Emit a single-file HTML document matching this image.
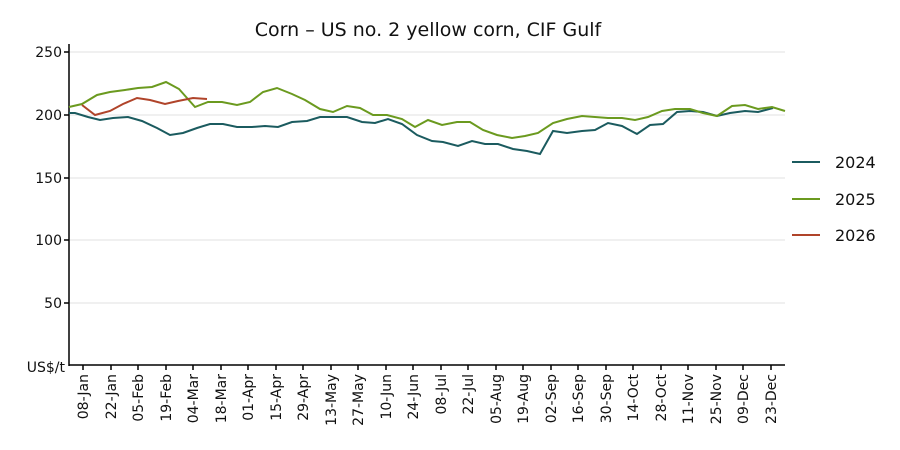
<!DOCTYPE html>
<html><head><meta charset="utf-8"><style>body{margin:0;background:#fff}svg{display:block;font-family:"DejaVu Sans","Liberation Sans",sans-serif}</style></head><body>
<svg width="900" height="450" viewBox="0 0 900 450">
<text x="428" y="36" font-size="19" text-anchor="middle" fill="#111">Corn – US no. 2 yellow corn, CIF Gulf</text>
<g stroke="#ececec" stroke-width="1.5">
<line x1="70" y1="52" x2="785" y2="52"/><line x1="70" y1="115" x2="785" y2="115"/><line x1="70" y1="178" x2="785" y2="178"/><line x1="70" y1="240" x2="785" y2="240"/><line x1="70" y1="303" x2="785" y2="303"/>
</g>
<line x1="69" y1="44" x2="69" y2="366" stroke="#000" stroke-width="1.5"/>
<line x1="69" y1="365" x2="785" y2="365" stroke="#000" stroke-width="1.5"/>
<g stroke="#000" stroke-width="1.5"><line x1="64" y1="52" x2="69" y2="52"/><line x1="64" y1="115" x2="69" y2="115"/><line x1="64" y1="178" x2="69" y2="178"/><line x1="64" y1="240" x2="69" y2="240"/><line x1="64" y1="303" x2="69" y2="303"/></g>
<g stroke="#000" stroke-width="1.5">
<line x1="83" y1="365" x2="83" y2="370"/><line x1="111" y1="365" x2="111" y2="370"/><line x1="138" y1="365" x2="138" y2="370"/><line x1="166" y1="365" x2="166" y2="370"/><line x1="193" y1="365" x2="193" y2="370"/><line x1="221" y1="365" x2="221" y2="370"/><line x1="248" y1="365" x2="248" y2="370"/><line x1="276" y1="365" x2="276" y2="370"/><line x1="303" y1="365" x2="303" y2="370"/><line x1="331" y1="365" x2="331" y2="370"/><line x1="358" y1="365" x2="358" y2="370"/><line x1="386" y1="365" x2="386" y2="370"/><line x1="413" y1="365" x2="413" y2="370"/><line x1="441" y1="365" x2="441" y2="370"/><line x1="468" y1="365" x2="468" y2="370"/><line x1="496" y1="365" x2="496" y2="370"/><line x1="523" y1="365" x2="523" y2="370"/><line x1="551" y1="365" x2="551" y2="370"/><line x1="578" y1="365" x2="578" y2="370"/><line x1="606" y1="365" x2="606" y2="370"/><line x1="633" y1="365" x2="633" y2="370"/><line x1="661" y1="365" x2="661" y2="370"/><line x1="688" y1="365" x2="688" y2="370"/><line x1="716" y1="365" x2="716" y2="370"/><line x1="743" y1="365" x2="743" y2="370"/><line x1="771" y1="365" x2="771" y2="370"/>
</g>
<g font-size="14" text-anchor="end" fill="#111"><text x="62" y="57">250</text><text x="62" y="120">200</text><text x="62" y="183">150</text><text x="62" y="245">100</text><text x="62" y="308">50</text><text x="65" y="372">US$/t</text></g>
<polyline fill="none" stroke="#1b5b5f" stroke-width="2" points="69,113 75,113 88,117 100,120 113,118 128,117 142,121 157,128 170,135 183,133 197,128 210,124 223,124 237,127 252,127 265,126 278,127 292,122 307,121 320,117 333,117 347,117 362,122 375,123 388,119 402,124 417,135 432,141 443,142 458,146 472,141 485,144 498,144 513,149 527,151 540,154 553,131 567,133 582,131 595,130 608,123 622,126 637,134 650,125 663,124 677,112 690,111 703,112 717,116 730,113 745,111 758,112 773,108"/>
<polyline fill="none" stroke="#6b9a1f" stroke-width="2" points="69,107 82,104 97,95 110,92 125,90 138,88 152,87 166,82 179,89 195,107 208,102 222,102 237,105 250,102 263,92 277,88 292,94 305,100 320,109 333,112 347,106 360,108 373,115 387,115 402,119 415,127 428,120 442,125 457,122 470,122 483,130 497,135 512,138 525,136 538,133 553,123 567,119 582,116 595,117 608,118 622,118 635,120 648,117 662,111 675,109 690,109 703,113 717,116 732,106 745,105 758,109 772,107 785,111"/>
<polyline fill="none" stroke="#b0442a" stroke-width="2" points="82,105 95,115 110,111 123,104 137,98 150,100 165,104 178,101 193,98 207,99"/>
<g stroke-width="2"><line x1="792" y1="162" x2="820" y2="162" stroke="#1b5b5f"/><line x1="792" y1="199" x2="820" y2="199" stroke="#6b9a1f"/><line x1="792" y1="235" x2="820" y2="235" stroke="#b0442a"/></g>
<g font-size="16" fill="#111"><text x="835" y="168">2024</text><text x="835" y="205">2025</text><text x="835" y="241">2026</text></g>
<g font-size="14" fill="#111" text-anchor="end">
<text transform="translate(88,374) rotate(-90)">08-Jan</text>
<text transform="translate(116,374) rotate(-90)">22-Jan</text>
<text transform="translate(143,374) rotate(-90)">05-Feb</text>
<text transform="translate(171,374) rotate(-90)">19-Feb</text>
<text transform="translate(198,374) rotate(-90)">04-Mar</text>
<text transform="translate(226,374) rotate(-90)">18-Mar</text>
<text transform="translate(253,374) rotate(-90)">01-Apr</text>
<text transform="translate(281,374) rotate(-90)">15-Apr</text>
<text transform="translate(308,374) rotate(-90)">29-Apr</text>
<text transform="translate(336,374) rotate(-90)">13-May</text>
<text transform="translate(363,374) rotate(-90)">27-May</text>
<text transform="translate(391,374) rotate(-90)">10-Jun</text>
<text transform="translate(418,374) rotate(-90)">24-Jun</text>
<text transform="translate(446,374) rotate(-90)">08-Jul</text>
<text transform="translate(473,374) rotate(-90)">22-Jul</text>
<text transform="translate(501,374) rotate(-90)">05-Aug</text>
<text transform="translate(528,374) rotate(-90)">19-Aug</text>
<text transform="translate(556,374) rotate(-90)">02-Sep</text>
<text transform="translate(583,374) rotate(-90)">16-Sep</text>
<text transform="translate(611,374) rotate(-90)">30-Sep</text>
<text transform="translate(638,374) rotate(-90)">14-Oct</text>
<text transform="translate(666,374) rotate(-90)">28-Oct</text>
<text transform="translate(693,374) rotate(-90)">11-Nov</text>
<text transform="translate(721,374) rotate(-90)">25-Nov</text>
<text transform="translate(748,374) rotate(-90)">09-Dec</text>
<text transform="translate(776,374) rotate(-90)">23-Dec</text>
</g>
</svg>
</body></html>
